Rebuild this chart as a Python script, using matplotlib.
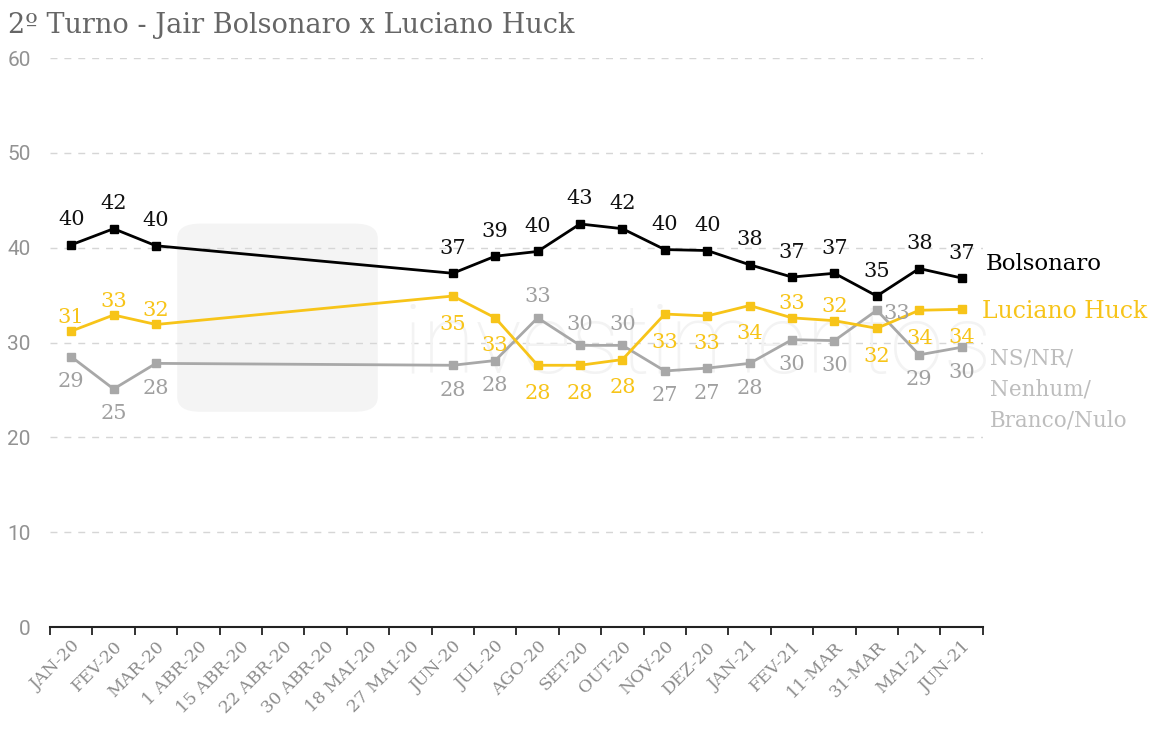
import matplotlib.pyplot as plt
from matplotlib.patches import FancyBboxPatch

# Dados
categorias = ['JAN-20', 'FEV-20', 'MAR-20', '1 ABR-20', '15 ABR-20', '22 ABR-20',
              '30 ABR-20', '18 MAI-20', '27 MAI-20', 'JUN-20', 'JUL-20', 'AGO-20',
              'SET-20', 'OUT-20', 'NOV-20', 'DEZ-20', 'JAN-21', 'FEV-21', '11-MAR',
              '31-MAR', 'MAI-21', 'JUN-21']
idx = [0, 1, 2, 9, 10, 11, 12, 13, 14, 15, 16, 17, 18, 19, 20, 21]

bolsonaro = [40.3, 42.0, 40.2, 37.3, 39.1, 39.6, 42.5, 42.0, 39.8, 39.7, 38.2, 36.9, 37.3, 34.9, 37.8, 36.8]
bolsonaro_rot = [40, 42, 40, 37, 39, 40, 43, 42, 40, 40, 38, 37, 37, 35, 38, 37]
huck = [31.2, 32.9, 31.9, 34.9, 32.6, 27.6, 27.6, 28.2, 33.0, 32.8, 33.9, 32.6, 32.3, 31.5, 33.4, 33.5]
huck_rot = [31, 33, 32, 35, 33, 28, 28, 28, 33, 33, 34, 33, 32, 32, 34, 34]
ns = [28.5, 25.1, 27.8, 27.6, 28.1, 32.6, 29.7, 29.7, 27.0, 27.3, 27.8, 30.3, 30.2, 33.4, 28.7, 29.5]
ns_rot = [29, 25, 28, 28, 28, 33, 30, 30, 27, 27, 28, 30, 30, 33, 29, 30]

# posição dos rótulos: a = acima, b = abaixo, d = direita
huck_pos = ['a', 'a', 'a', 'b', 'b', 'b', 'b', 'b', 'b', 'b', 'b', 'a', 'a', 'b', 'b', 'b']
ns_pos = ['b', 'b', 'b', 'b', 'b', 'a', 'a', 'a', 'b', 'b', 'b', 'b', 'b', 'd', 'b', 'b']

PRETO = '#000000'
AMARELO = '#F7C419'
CINZA = '#A8A8A8'
SERIF = 'DejaVu Serif'

fig = plt.figure(figsize=(11.66, 7.38), dpi=100)
ax = fig.add_axes([0.0429, 0.1504, 0.8, 0.771])

# marca d'água (atrás das linhas)
wm = FancyBboxPatch((0.152, 0.442), 0.172, 0.255, boxstyle='round,pad=0,rounding_size=0.02',
                    transform=fig.transFigure, facecolor='#f4f4f4', edgecolor='none',
                    zorder=0.5, clip_on=False)
ax.add_patch(wm)
ax.text(0.345, 0.53, 'investimentos', fontsize=70, color='#f3f3f3', family='Roboto',
        fontweight='light', va='center', ha='left', zorder=0.6, transform=fig.transFigure)

def desenha(valores, rotulos, cor, cor_rot, posicoes, acima, abaixo):
    ax.plot(idx, valores, '-', color=cor, linewidth=2, marker='s', markersize=6, zorder=3)
    for x, v, r, p in zip(idx, valores, rotulos, posicoes):
        if p == 'a':
            off, ha = (0, acima), 'center'
        elif p == 'b':
            off, ha = (0, abaixo), 'center'
        else:
            off, ha = (7, -3), 'left'
        ax.annotate(str(r), (x, v), xytext=off, textcoords='offset pixels',
                    ha=ha, va='center', fontsize=15, color=cor_rot, family=SERIF, zorder=4)

desenha(ns, ns_rot, CINZA, '#A0A0A0', ns_pos, 21, -25)
desenha(huck, huck_rot, AMARELO, AMARELO, huck_pos, 14, -28)
desenha(bolsonaro, bolsonaro_rot, PRETO, '#111111', ['a'] * len(idx), 25, -25)

# nomes das séries
ax.annotate('Bolsonaro', (21, bolsonaro[-1]), xytext=(24, 14), textcoords='offset pixels',
            fontsize=16.5, color=PRETO, family=SERIF, va='center', ha='left')
ax.annotate('Luciano Huck', (21, huck[-1]), xytext=(20, -2), textcoords='offset pixels',
            fontsize=17, color=AMARELO, family=SERIF, va='center', ha='left')
ax.annotate('NS/NR/\nNenhum/\nBranco/Nulo', (21, ns[-1]), xytext=(28, 0), textcoords='offset pixels',
            fontsize=15.5, color='#BDBDBD', family=SERIF, va='top', ha='left', linespacing=1.55)

ax.set_xlim(-0.5, len(categorias) - 0.5)
ax.set_ylim(0, 60)
ax.set_yticks(range(0, 61, 10))
ax.set_xticks(range(len(categorias)))
ax.set_xticklabels(categorias, rotation=45, ha='right', rotation_mode='anchor',
                   family=SERIF, fontsize=12.5, color='#8c8c8c')
ax.set_xticks([i - 0.5 for i in range(len(categorias) + 1)], minor=True)
ax.tick_params(axis='x', which='major', length=0, pad=8)
ax.tick_params(axis='x', which='minor', length=6, width=1.3, color='#222222', direction='out')
ax.tick_params(axis='y', length=0, pad=14, labelsize=15, labelcolor='#929292')
for lab in ax.get_yticklabels():
    lab.set_family('Roboto')

ax.grid(axis='y', linestyle=(0, (5, 5)), color='#d6d6d6', linewidth=1)
ax.set_axisbelow(True)
for s in ['top', 'right', 'left']:
    ax.spines[s].set_visible(False)
ax.spines['bottom'].set_linewidth(1.5)
ax.spines['bottom'].set_color('#222222')
ax.spines['bottom'].set_zorder(5)

fig.text(0.007, 0.966, '2º Turno - Jair Bolsonaro x Luciano Huck', fontsize=19.5,
         color='#666666', family=SERIF, va='center', ha='left')

fig.savefig('out.png', dpi=100)
